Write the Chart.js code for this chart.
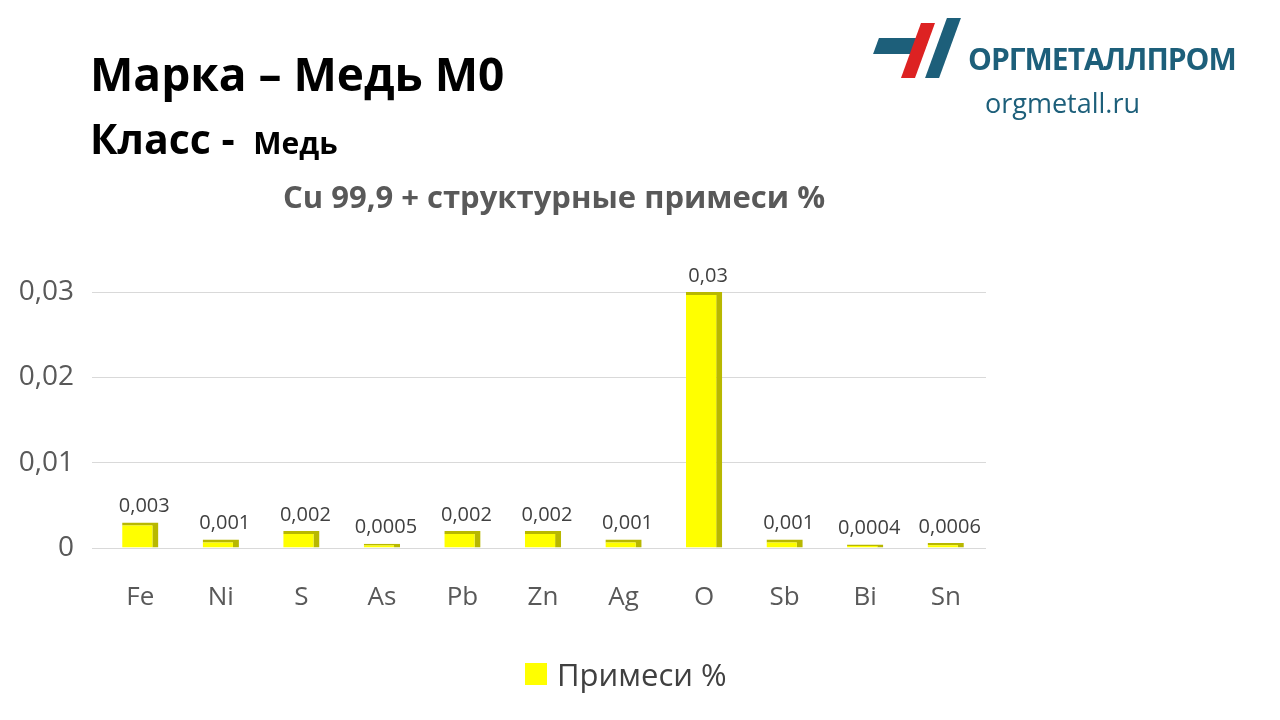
<!DOCTYPE html><html><head><meta charset="utf-8">
<script src="https://cdn.jsdelivr.net/npm/chart.js"></script>
<style>
body{margin:0;width:1280px;height:720px;background:#fff;font-family:"Open Sans",Calibri,sans-serif;position:relative;overflow:hidden}
.t{position:absolute;font-weight:bold;color:#000}
#c{position:absolute;left:0;top:0}
</style></head><body>
<canvas id="c" width="1280" height="720"></canvas>
<div class="t" style="left:90px;top:42px;font-size:46px">Марка – Медь М0</div>
<div class="t" style="left:90px;top:110px;font-size:41px">Класс - <span style="font-size:30px">&nbsp;Медь</span></div>
<div class="t" style="left:283px;top:175px;font-size:31px;color:#595959">Cu 99,9 + структурные примеси %</div>
<div style="position:absolute;left:876px;top:18px;width:95px;height:60px">
<div style="position:absolute;left:0;top:20px;width:50px;height:16px;background:#1d5f7a;transform:skewX(-20deg)"></div>
<div style="position:absolute;left:35px;top:5px;width:14px;height:55px;background:#d22;transform:skewX(-20deg)"></div>
<div style="position:absolute;left:60px;top:0;width:14px;height:60px;background:#1d5f7a;transform:skewX(-20deg)"></div>
</div>
<div class="t" style="left:968px;top:38px;font-size:30px;color:#1d5f7a;letter-spacing:-1px">ОРГМЕТАЛЛПРОМ</div>
<div style="position:absolute;left:985px;top:84px;font-size:27px;color:#1d5f7a">orgmetall.ru</div>
<div style="position:absolute;left:525px;top:653px;font-size:31px;color:#404040;display:flex;align-items:center"><span style="display:inline-block;width:22px;height:22px;background:#FFFF00;margin-right:10px"></span>Примеси %</div>
<script>
const categories=["Fe","Ni","S","As","Pb","Zn","Ag","O","Sb","Bi","Sn"];
const values=[0.003,0.001,0.002,0.0005,0.002,0.002,0.001,0.03,0.001,0.0004,0.0006];
const valueLabels=["0,003","0,001","0,002","0,0005","0,002","0,002","0,001","0,03","0,001","0,0004","0,0006"];
const yTicks=[0,0.01,0.02,0.03];
const labelsPlugin={id:"lbl",afterDatasetsDraw(ch){const ctx=ch.ctx;const m=ch.getDatasetMeta(0);ctx.save();ctx.font="20px 'Open Sans'";ctx.fillStyle="#404040";ctx.textAlign="center";ctx.textBaseline="bottom";m.data.forEach((b,i)=>{ctx.fillText(valueLabels[i],b.x+4,b.y-6)});ctx.restore();}};
new Chart(document.getElementById("c"),{type:"bar",data:{labels:categories,datasets:[{label:"Примеси %",data:values,backgroundColor:"#FFFF00",borderColor:"#B8B800",borderWidth:{right:6,top:3},borderSkipped:false,categoryPercentage:1,barPercentage:0.45}]},
options:{responsive:false,animation:false,layout:{padding:{top:292,left:10,right:294,bottom:107}},
plugins:{legend:{display:false},tooltip:{enabled:false}},
scales:{x:{afterFit(s){s.height=65},grid:{display:false},border:{display:false},ticks:{font:{size:26,family:"Open Sans"},color:"#595959",padding:26}},
y:{min:0,max:0.03,afterFit(s){s.width=90},afterBuildTicks(s){s.ticks=yTicks.map(v=>({value:v}))},border:{display:false},grid:{color:"#d9d9d9"},ticks:{font:{size:28,family:"Open Sans"},color:"#595959",padding:18,callback:v=>String(v).replace(".",",")}}}},plugins:[labelsPlugin]});
</script></body></html>
